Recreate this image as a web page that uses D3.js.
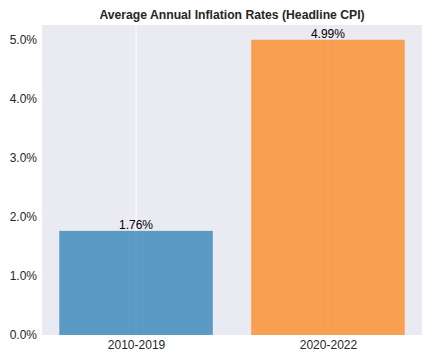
<!DOCTYPE html>
<html>
<head>
<meta charset="utf-8">
<script src="https://cdn.jsdelivr.net/npm/d3@7"></script>
<style>
  body { margin: 0; background: #fff; }
  text { font-family: "Liberation Sans", Arial, sans-serif; }
</style>
</head>
<body>
<div id="chart"></div>
<script>
// data
var periods = ["2010-2019", "2020-2022"];
var rates = [1.76, 4.99];
var barColors = ["#1f77b4", "#ff7f0e"];
var yTicks = [0, 1, 2, 3, 4, 5];

var W = 433, H = 361;
var margin = {top: 25, right: 11, bottom: 26, left: 42};
var iw = W - margin.left - margin.right,
    ih = H - margin.top - margin.bottom;

var svg = d3.select("#chart").append("svg")
    .attr("width", W).attr("height", H);

// 绘图区背景
var g = svg.append("g").attr("transform", "translate(" + margin.left + "," + margin.top + ")");
g.append("rect").attr("width", iw).attr("height", ih).attr("fill", "#eaeaf2");

// x: category positions, bars 0.8 wide, matplotlib style margins
var x = d3.scaleLinear().domain([-0.49, 1.49]).range([0, iw]);
var y = d3.scaleLinear().domain([0, 4.99 * 1.05]).range([ih, 0]);

// 竖向网格线
g.selectAll("line.grid").data(periods).enter().append("line")
    .attr("class", "grid")
    .attr("x1", function (d, i) { return x(i); })
    .attr("x2", function (d, i) { return x(i); })
    .attr("y1", 0).attr("y2", ih)
    .attr("stroke", "#fff").attr("stroke-width", 1);

// bars
g.selectAll("rect.bar").data(rates).enter().append("rect")
    .attr("class", "bar")
    .attr("x", function (d, i) { return x(i - 0.4); })
    .attr("width", function () { return x(0.4) - x(-0.4); })
    .attr("y", function (d) { return y(d); })
    .attr("height", function (d) { return ih - y(d); })
    .attr("fill", function (d, i) { return barColors[i]; })
    .attr("fill-opacity", 0.7);

// 数值标签
g.selectAll("text.val").data(rates).enter().append("text")
    .attr("class", "val")
    .attr("x", function (d, i) { return x(i); })
    .attr("y", function (d) { return y(d) - 2; })
    .attr("text-anchor", "middle")
    .attr("font-size", 12)
    .attr("fill", "#000")
    .text(function (d) { return d.toFixed(2) + "%"; });

// y axis
var yAxis = g.append("g")
    .call(d3.axisLeft(y).tickValues(yTicks).tickSize(0).tickPadding(5)
        .tickFormat(function (d) { return d.toFixed(1) + "%"; }));
yAxis.select(".domain").remove();
yAxis.selectAll("text").attr("font-size", 12).attr("fill", "#262626")
    .style("font-family", "Liberation Sans, Arial, sans-serif");

// x axis
var xAxis = g.append("g").attr("transform", "translate(0," + ih + ")")
    .call(d3.axisBottom(x).tickValues([0, 1]).tickSize(0).tickPadding(5)
        .tickFormat(function (d) { return periods[d]; }));
xAxis.select(".domain").remove();
xAxis.selectAll("text").attr("font-size", 12).attr("fill", "#262626")
    .style("font-family", "Liberation Sans, Arial, sans-serif");

// title
svg.append("text")
    .attr("x", margin.left + iw / 2)
    .attr("y", 19)
    .attr("text-anchor", "middle")
    .attr("font-size", 12.2)
    .attr("font-weight", "bold")
    .attr("fill", "#262626")
    .text("Average Annual Inflation Rates (Headline CPI)");
</script>
</body>
</html>
